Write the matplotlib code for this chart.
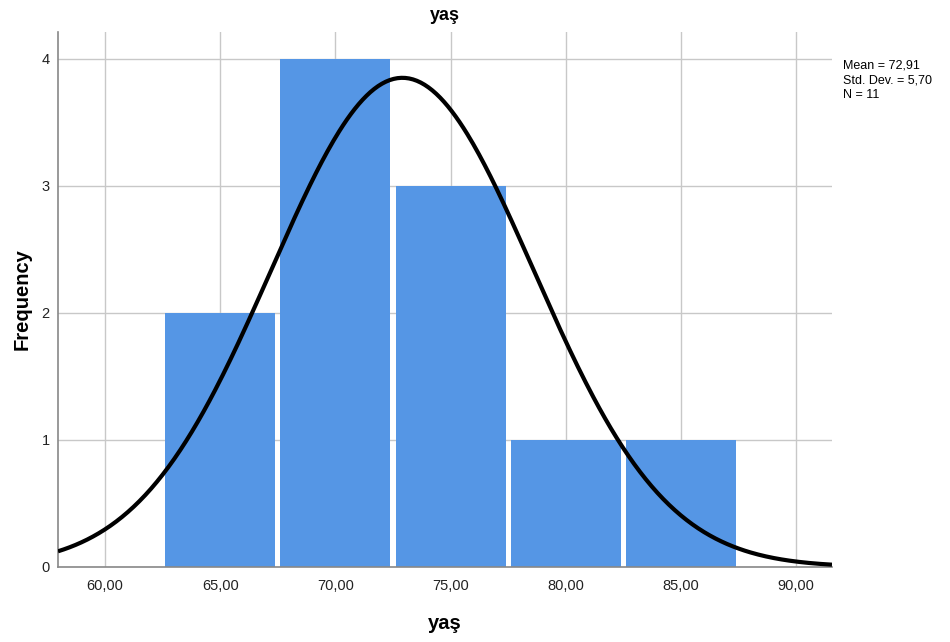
import numpy as np
import matplotlib
matplotlib.use("Agg")
import matplotlib.pyplot as plt

plt.rcParams['font.family'] = ['Liberation Sans', 'DejaVu Sans']

# Data
bin_centers = [65, 70, 75, 80, 85]
counts = [2, 4, 3, 1, 1]
bin_width = 5
mean = 72.91
std = 5.70
n = 11
x_ticks = [60, 65, 70, 75, 80, 85, 90]
x_tick_labels = ["60,00", "65,00", "70,00", "75,00", "80,00", "85,00", "90,00"]
y_ticks = [0, 1, 2, 3, 4]

fig = plt.figure(figsize=(9.5, 6.42), dpi=100)
ax = fig.add_axes([58/950, 1-567/642, (832-58)/950, (567-32)/642])

xmin, xmax = 57.96, 91.56
ax.set_xlim(xmin, xmax)
ax.set_ylim(0, 4.21)

ax.set_axisbelow(True)
ax.grid(True, color='#c8c8c8', linewidth=1.0)
ax.bar(bin_centers, counts, width=bin_width * 0.955, color='#5596E5', linewidth=0, zorder=2)

xs = np.linspace(xmin, xmax, 400)
ys = n * bin_width / (std * np.sqrt(2*np.pi)) * np.exp(-0.5*((xs-mean)/std)**2)
ax.plot(xs, ys, color='black', linewidth=3, zorder=3, solid_capstyle='butt')

ax.set_xticks(x_ticks)
ax.set_xticklabels(x_tick_labels)
ax.set_yticks(y_ticks)
ax.set_yticklabels([str(v) for v in y_ticks])
ax.tick_params(length=0, labelsize=10.5, colors='#222222')
ax.tick_params(axis='x', pad=9)
ax.tick_params(axis='y', pad=6)

for s in ['top', 'right']:
    ax.spines[s].set_visible(False)
ax.spines['left'].set_color('#888888')
ax.spines['bottom'].set_color('#888888')
ax.spines['left'].set_linewidth(1.2)
ax.spines['bottom'].set_linewidth(1.2)

ax.set_title('yaş', fontsize=13, fontweight='bold', pad=9)
ax.set_xlabel('yaş', fontsize=14.5, fontweight='bold', labelpad=15)
ax.set_ylabel('Frequency', fontsize=14.5, fontweight='bold', labelpad=7)

fig.text(843/950, 1-59/642, 'Mean = 72,91\nStd. Dev. = 5,70\nN = 11', fontsize=9, va='top', ha='left', linespacing=1.35)

fig.savefig('out.png', dpi=100)
